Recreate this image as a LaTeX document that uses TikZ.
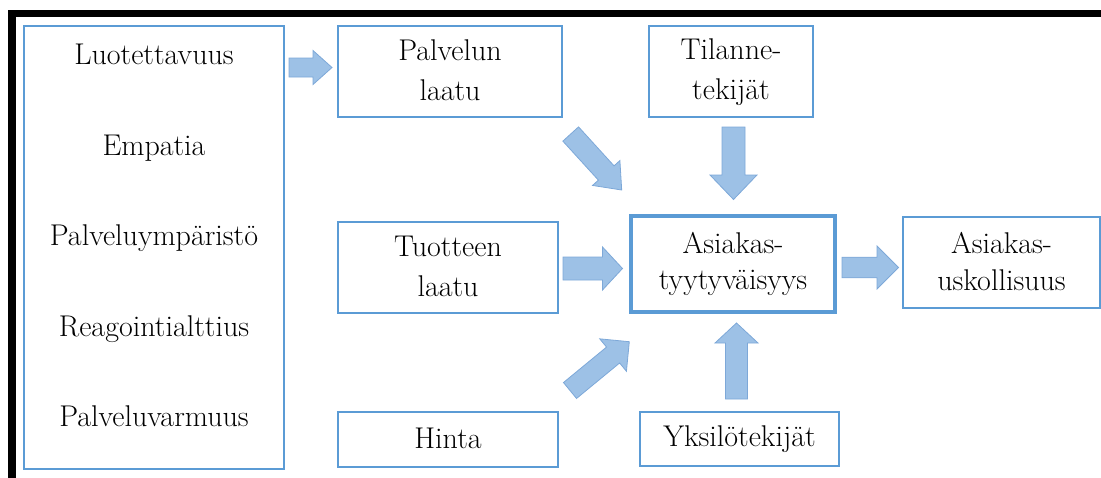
\documentclass[tikz,border=0pt]{standalone}
\usepackage{fontspec}
\usetikzlibrary{calc}
\definecolor{boxblue}{RGB}{91,155,213}
\definecolor{arrfill}{RGB}{157,193,230}
\definecolor{arrline}{RGB}{125,168,216}
\newcommand\tstrut{\rule[-4pt]{0pt}{26pt}}
\tikzset{
  box/.style={draw=boxblue, line width=1.2pt, inner sep=0pt, align=center,
    font=\rmfamily\fontsize{30}{40}\selectfont},
  mainbox/.style={box, line width=4pt, font=\rmfamily\fontsize{30}{36}\selectfont},
  txt/.style={font=\rmfamily\fontsize{30}{40}\selectfont, anchor=base, inner sep=0pt},
  blockarrowstyle/.style={fill=arrfill, draw=arrline, line width=0.8pt, line join=miter},
  frame/.style={line width=7.5pt, line join=miter, draw=black}
}
\newcommand\blockarrow[5]{%
  \coordinate (#2-hb) at ($(#2)!#5!(#1)$);
  \path[blockarrowstyle] ($(#1)!#3!90:(#2)$) -- ($(#2-hb)!#3!-90:(#1)$)
    -- ($(#2-hb)!#4!-90:(#1)$) -- (#2) -- ($(#2-hb)!#4!90:(#1)$)
    -- ($(#2-hb)!#3!90:(#1)$) -- ($(#1)!#3!-90:(#2)$) -- cycle;
}
\begin{document}
\begin{tikzpicture}[x=1pt, y=-1pt]
\useasboundingbox (0,0) rectangle (1101,477);
\draw[frame] (12,480) -- (12,13.5) -- (1105,13.5);

\node[box, minimum width=260pt, minimum height=443pt] (left) at (154,247.5) {};
\node[txt] (t1) at (154,64) {Luotettavuus};
\node[txt] (t2) at (154,155) {Empatia};
\node[txt] (t3) at (154,245) {Palveluympäristö};
\node[txt] (t4) at (154,336) {Reagointialttius};
\node[txt] (t5) at (154,426) {Palveluvarmuus};

\node[box, minimum width=224pt, minimum height=91pt] (pl) at (450,71.5) {\tstrut Palvelun\\\tstrut laatu};
\node[box, minimum width=164pt, minimum height=91pt] (ti) at (731,71.5) {\tstrut Tilanne-\\\tstrut tekijät};
\node[box, minimum width=220pt, minimum height=91pt] (tl) at (448,267.5) {\tstrut Tuotteen\\\tstrut laatu};
\node[mainbox, minimum width=204pt, minimum height=96pt] (at) at (733,264) {\tstrut Asiakas-\\\tstrut tyytyväisyys};
\node[box, minimum width=197pt, minimum height=91pt, font=\rmfamily\fontsize{30}{37}\selectfont] (au) at (1001.5,262.5) {\tstrut Asiakas-\\\tstrut uskollisuus};
\node[box, minimum width=220pt, minimum height=55pt] (hi) at (448,439.5) {\tstrut Hinta};
\node[box, minimum width=199pt, minimum height=54pt] (yk) at (739.5,439) {\tstrut Yksilötekijät};

\coordinate (a1s) at (289,67.5);   \coordinate (a1e) at (332,67.5);
\coordinate (a2s) at (570.7,134);  \coordinate (a2e) at (621.7,190);
\coordinate (a3s) at (733.5,127);  \coordinate (a3e) at (733.5,199.5);
\coordinate (a4s) at (563,268.5);  \coordinate (a4e) at (622.5,268.5);
\coordinate (a5s) at (842,267.5);  \coordinate (a5e) at (898.5,267.5);
\coordinate (a6s) at (570,390.5);  \coordinate (a6e) at (629.3,341.7);
\coordinate (a7s) at (736.5,399);  \coordinate (a7e) at (736.5,323);
\blockarrow{a1s}{a1e}{9.5pt}{17pt}{19pt}
\blockarrow{a2s}{a2e}{10.6pt}{18.5pt}{23pt}
\blockarrow{a3s}{a3e}{11.5pt}{23.5pt}{24.5pt}
\blockarrow{a4s}{a4e}{11.5pt}{21.5pt}{20pt}
\blockarrow{a5s}{a5e}{10.3pt}{21.5pt}{21.5pt}
\blockarrow{a6s}{a6e}{10.3pt}{21pt}{21pt}
\blockarrow{a7s}{a7e}{11pt}{21.5pt}{20pt}
\end{tikzpicture}
\end{document}
